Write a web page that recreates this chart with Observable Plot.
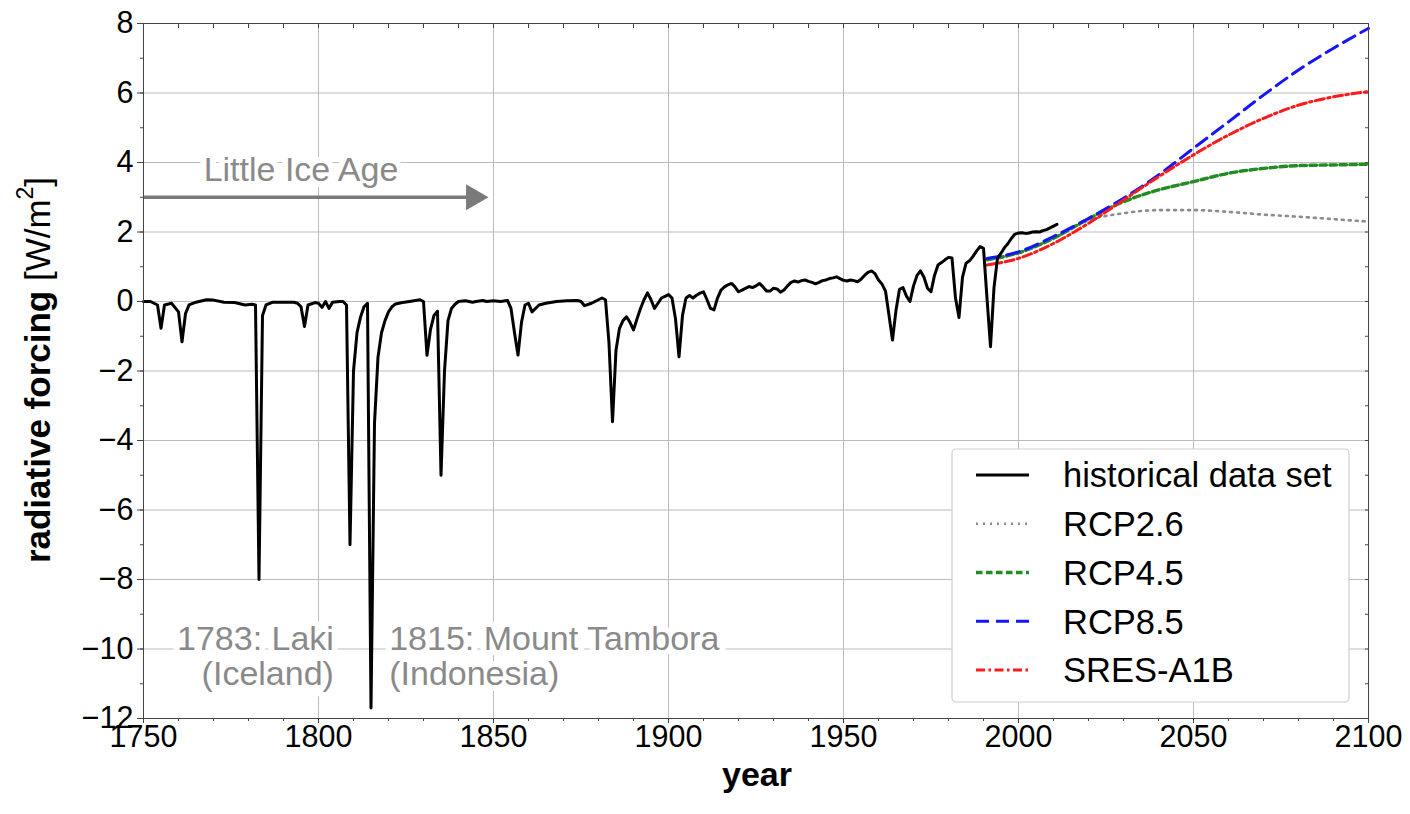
<!DOCTYPE html>
<html><head><meta charset="utf-8">
<script src="https://cdn.jsdelivr.net/npm/d3@7"></script>
<script src="https://cdn.jsdelivr.net/npm/@observablehq/plot@0.6"></script>
<style>
html,body{margin:0;padding:0;background:#fff;}
#chart{width:1410px;height:814px;}
</style></head><body><div id="chart"></div>
<script>
// ---- data ----
const histYears = [1750,1752,1754,1755,1756,1758,1760,1761,1762,1763,1765,1768,1770,1773,1776,1779,1781,1782,1783,1784,1785,1787,1790,1793,1794,1795,1796,1797,1799,1800,1801,1802,1803,1804,1806,1807,1808,1809,1810,1811,1812,1813,1814,1815,1816,1817,1818,1819,1820,1821,1822,1824,1826,1829,1830,1831,1832,1833,1834,1835,1836,1837,1838,1839,1840,1842,1844,1845,1847,1848,1850,1852,1854,1855,1856,1857,1858,1859,1860,1861,1862,1863,1865,1868,1871,1874,1875,1876,1878,1880,1881,1882,1883,1884,1885,1886,1887,1888,1889,1890,1891,1892,1893,1894,1895,1896,1897,1898,1899,1900,1901,1902,1903,1904,1905,1906,1907,1908,1909,1910,1911,1912,1913,1914,1915,1916,1917,1918,1919,1920,1921,1922,1923,1924,1925,1926,1927,1928,1929,1930,1931,1932,1933,1934,1935,1936,1937,1938,1939,1940,1941,1942,1943,1944,1945,1946,1947,1948,1949,1950,1951,1952,1953,1954,1955,1956,1957,1958,1959,1960,1961,1962,1963,1964,1965,1966,1967,1968,1969,1970,1971,1972,1973,1974,1975,1976,1977,1978,1979,1980,1981,1982,1983,1984,1985,1986,1987,1988,1989,1990,1991,1992,1993,1994,1995,1996,1997,1998,1999,2000,2001,2002,2003,2004,2005,2006,2007,2008,2009,2010,2011];
const histValues = [0.0,0.0,-0.1,-0.77,-0.1,-0.05,-0.3,-1.16,-0.35,-0.1,-0.02,0.05,0.04,-0.02,-0.03,-0.1,-0.08,-0.1,-8.0,-0.4,-0.1,-0.02,-0.02,-0.02,-0.05,-0.15,-0.72,-0.1,-0.03,-0.05,-0.17,0.0,-0.2,-0.02,0.0,0.0,-0.1,-7.0,-2.0,-0.9,-0.45,-0.15,-0.05,-11.7,-3.5,-1.6,-0.9,-0.55,-0.3,-0.15,-0.07,-0.03,0.0,0.05,0.0,-1.55,-0.8,-0.4,-0.28,-5.0,-2.0,-0.55,-0.2,-0.08,0.0,0.02,-0.02,0.0,0.03,0.0,0.02,0.0,0.03,-0.2,-0.9,-1.54,-0.6,-0.1,-0.05,-0.3,-0.2,-0.1,-0.05,0.0,0.02,0.03,0.0,-0.12,-0.05,0.05,0.1,0.05,-1.2,-3.46,-1.4,-0.77,-0.55,-0.44,-0.6,-0.82,-0.5,-0.2,0.05,0.25,0.05,-0.2,-0.05,0.1,0.15,0.2,0.1,-0.5,-1.59,-0.4,0.1,0.17,0.1,0.18,0.24,0.28,0.05,-0.2,-0.24,0.1,0.33,0.42,0.48,0.52,0.42,0.28,0.33,0.38,0.43,0.4,0.45,0.52,0.42,0.3,0.3,0.38,0.36,0.27,0.33,0.45,0.55,0.59,0.56,0.6,0.62,0.58,0.55,0.51,0.55,0.6,0.62,0.66,0.68,0.71,0.66,0.61,0.59,0.62,0.6,0.57,0.64,0.75,0.84,0.88,0.8,0.62,0.5,0.3,-0.4,-1.11,-0.25,0.35,0.4,0.15,0.0,0.45,0.75,0.88,0.7,0.38,0.28,0.75,1.05,1.12,1.2,1.27,1.25,0.1,-0.46,0.7,1.1,1.17,1.3,1.45,1.58,1.53,0.1,-1.3,0.4,1.25,1.39,1.55,1.67,1.82,1.94,1.97,1.98,1.96,1.97,2.0,2.01,2.0,2.04,2.07,2.12,2.17,2.22];

const scenYears = [1991,2000,2010,2020,2030,2040,2050,2060,2070,2080,2090,2100];
const rcp26   = [1.2,1.4,1.82,2.33,2.54,2.63,2.63,2.58,2.5,2.44,2.37,2.3];
const rcp45   = [1.2,1.4,1.82,2.38,2.87,3.21,3.45,3.69,3.83,3.91,3.93,3.95];
const rcp85   = [1.24,1.43,1.87,2.39,2.97,3.64,4.41,5.17,5.94,6.66,7.29,7.86];
const sresA1B = [1.05,1.24,1.67,2.25,2.92,3.59,4.22,4.79,5.27,5.65,5.89,6.04];

const seriesNames = ["historical data set","RCP2.6","RCP4.5","RCP8.5","SRES-A1B"];
const seriesColors = ["#000000","#8c8c8c","#228b22","#1515ff","#ff1a1a"];
const seriesDash = [null,"2,5","6.5,3.5","13,7","9,3.5,2.5,3.5"];
const seriesWidth = [3,2.6,3.4,3,3];

const xMajor = [1750,1800,1850,1900,1950,2000,2050,2100];
const xMinor = d3.range(1750, 2101, 10);
const yMajor = [-12,-10,-8,-6,-4,-2,0,2,4,6,8];
const yMinor = d3.range(-12, 9, 1);

// annotations
const liaText = ["Little Ice Age"];
const liaYear = [1795];
const liaValue = [3.78];
const arrowFrom = [1750];
const arrowTo = [1842.5];
const arrowHead = [1844.3];
const arrowLevel = [3];
const annoText = ["1783: Laki\n(Iceland)", "1815: Mount Tambora\n(Indonesia)"];
const annoYear = [1804.4, 1820.2];
const annoValue = [-10.2, -10.2];
const annoAnchor = ["end", "start"];

// ---- tables ----
const hist = histYears.map((y, i) => ({year: y, v: histValues[i]}));
const scen = (arr) => scenYears.map((y, i) => ({year: y, v: arr[i]}));
const scenarios = [rcp26, rcp45, rcp85, sresA1B].map(scen);
const lia = liaText.map((t, i) => ({t, x: liaYear[i], y: liaValue[i]}));
const arrow = arrowFrom.map((x1, i) => ({x1, x2: arrowTo[i], h: arrowHead[i], y: arrowLevel[i]}));
const anno = annoText.map((t, i) => ({t, x: annoYear[i], y: annoValue[i], a: annoAnchor[i]}));

const noText = () => "";
const gridStyle = {stroke: "#bcbcbc", strokeOpacity: 1, strokeWidth: 1};
const fmt = d => d < 0 ? "\u2212" + Math.abs(d) : String(d);

const scenMarks = [0, 1, 2, 3].map(k => Plot.line(scenarios[k], {
  x: "year", y: "v", curve: "monotone-x",
  stroke: seriesColors[k + 1], strokeWidth: seriesWidth[k + 1],
  strokeDasharray: seriesDash[k + 1]
}));

const annoMarks = [0, 1].map(i => Plot.text([anno[i]], {
  x: "x", y: "y", text: "t", textAnchor: anno[i].a, lineAnchor: "middle",
  lineHeight: 1.04, fontSize: 34, fill: "#8a8a8a",
  stroke: "white", strokeWidth: 12, paintOrder: "stroke"
}));

const chart = Plot.plot({
  width: 1410, height: 814,
  marginLeft: 143, marginRight: 42, marginTop: 23, marginBottom: 96,
  style: {fontFamily: "'Liberation Sans', Arial, sans-serif", fontSize: "30.5px", color: "#000", background: "#fff"},
  x: {domain: [1750, 2100]},
  y: {domain: [-12, 8]},
  marks: [
    Plot.gridX(xMajor, gridStyle),
    Plot.gridY(yMajor, gridStyle),
    Plot.axisX(xMinor, {tickSize: 3, tickFormat: noText, label: null, stroke: "#444"}),
    Plot.axisX(xMajor, {tickSize: 5, tickPadding: 2, tickFormat: d => String(d), label: null, stroke: "#444"}),
    Plot.axisY(yMinor, {tickSize: 3, tickFormat: noText, label: null, stroke: "#444"}),
    Plot.axisY(yMajor, {tickSize: 6, tickPadding: 4, tickFormat: fmt, label: null, stroke: "#444"}),
    Plot.axisX(xMinor, {anchor: "top", tickSize: -4, tickFormat: noText, label: null, stroke: "#444"}),
    Plot.axisY(yMinor, {anchor: "right", tickSize: -4, tickFormat: noText, label: null, stroke: "#444"}),
    Plot.text(lia, {x: "x", y: "y", text: "t", fontSize: 34, fill: "#8a8a8a",
      stroke: "white", strokeWidth: 12, paintOrder: "stroke"}),
    ...annoMarks,
    Plot.link(arrow, {x1: "x1", x2: "x2", y1: "y", y2: "y", stroke: "#7a7a7a", strokeWidth: 3.5}),
    Plot.dot(arrow, {x: "h", y: "y", symbol: "triangle", r: 9.6, rotate: 90, fill: "#7a7a7a", stroke: "none"}),
    ...scenMarks,
    Plot.line(hist, {x: "year", y: "v", stroke: seriesColors[0], strokeWidth: seriesWidth[0], strokeLinejoin: "round"}),
    Plot.frame({stroke: "#444"})
  ]
});

document.getElementById("chart").appendChild(chart);

// ---- axis labels & legend (drawn into the same SVG) ----
const svg = d3.select(chart);
const ylab = svg.append("text")
  .attr("transform", "translate(50,370) rotate(-90)")
  .attr("text-anchor", "middle")
  .attr("font-size", 35)
  .attr("fill", "#000");
ylab.append("tspan").attr("font-weight", "bold").text("radiative forcing");
ylab.append("tspan").text(" [W/m");
ylab.append("tspan").attr("font-size", 23).attr("dy", "-0.75em").text("2");
ylab.append("tspan").attr("dy", "0.5em").text("]");

svg.append("text")
  .attr("x", 757).attr("y", 786)
  .attr("text-anchor", "middle")
  .attr("font-size", 34).attr("font-weight", "bold")
  .attr("fill", "#000")
  .text("year");

const lg = svg.append("g").attr("text-anchor", "start");
lg.append("rect").attr("x", 952).attr("y", 449).attr("width", 397).attr("height", 253)
  .attr("rx", 4).attr("fill", "#fff").attr("stroke", "#cfcfcf").attr("stroke-width", 1.2);
seriesNames.forEach((name, i) => {
  const cy = 475 + i * 48.75;
  lg.append("line").attr("x1", 976).attr("x2", 1029).attr("y1", cy).attr("y2", cy)
    .attr("stroke", seriesColors[i]).attr("stroke-width", seriesWidth[i])
    .attr("stroke-dasharray", seriesDash[i]);
  lg.append("text").attr("x", 1063).attr("y", cy).attr("dy", "0.36em")
    .attr("text-anchor", "start")
    .attr("font-size", 34.5).attr("fill", "#000").text(name);
});
</script></body></html>
